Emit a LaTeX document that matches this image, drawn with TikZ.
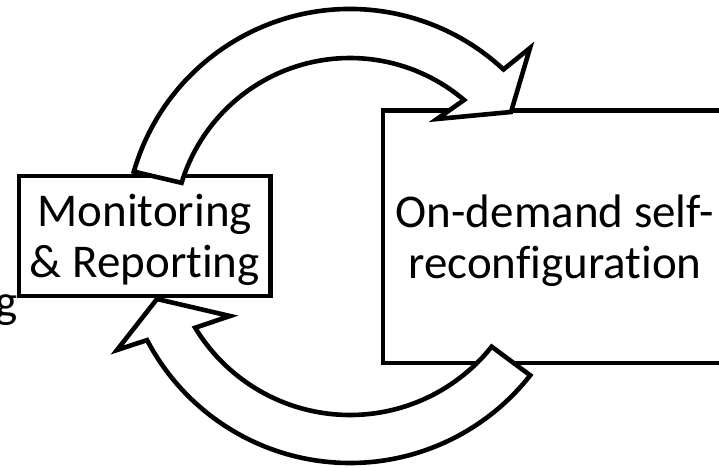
\documentclass[tikz,border=0pt]{standalone}
\usepackage{fontspec}
\setmainfont{Carlito}[Ligatures={NoCommon}]
\usetikzlibrary{calc}
\begin{document}
\begin{tikzpicture}[x=1pt,y=1pt,
  frame/.style={draw=black, line width=4.6pt, fill=white, inner sep=0pt, outer sep=0pt},
  blockarrow/.style={draw=black, line width=4.6pt, fill=white, line join=miter},
  lbl/.style={font=\fontsize{47}{51}\selectfont, align=center, inner sep=0pt}]
\useasboundingbox (0,0) rectangle (719,467);
\clip (0,0) rectangle (719,467);
\coordinate (C) at (350,233);
% boxes
\node[frame, minimum width=251.5pt, minimum height=120pt] (mon) at (144.75,231) {};
\node[frame, minimum width=344pt, minimum height=252.5pt] (odm) at (555,230.25) {};
\node[lbl] (montxt) at ($(mon.center)+(0,-3.8)$) {Monitoring\\\& Reporting};
\node[lbl] (odmtxt) at ($(odm.center)+(0,-3.8)$) {On-demand self-\\reconfiguration};
\node[lbl, anchor=base east] (frag) at (17.5,150) {g};
% block arrows
\draw[blockarrow] ($(C)+(163.9:225)$) arc[start angle=163.9, end angle=47, radius=225]
  -- (530,419) -- (511,355) -- (437,348)
  -- ($(C)+(49.6:176)$) arc[start angle=49.6, end angle=163.1, radius=176] -- cycle;
\draw[blockarrow] ($(C)+(-38.1:229)$) arc[start angle=-38.1, end angle=-152.4, radius=229]
  -- (117,117) -- (157,168) -- (230,151)
  -- ($(C)+(-148.8:181)$) arc[start angle=-148.8, end angle=-38.5, radius=181] -- cycle;
\end{tikzpicture}
\end{document}
